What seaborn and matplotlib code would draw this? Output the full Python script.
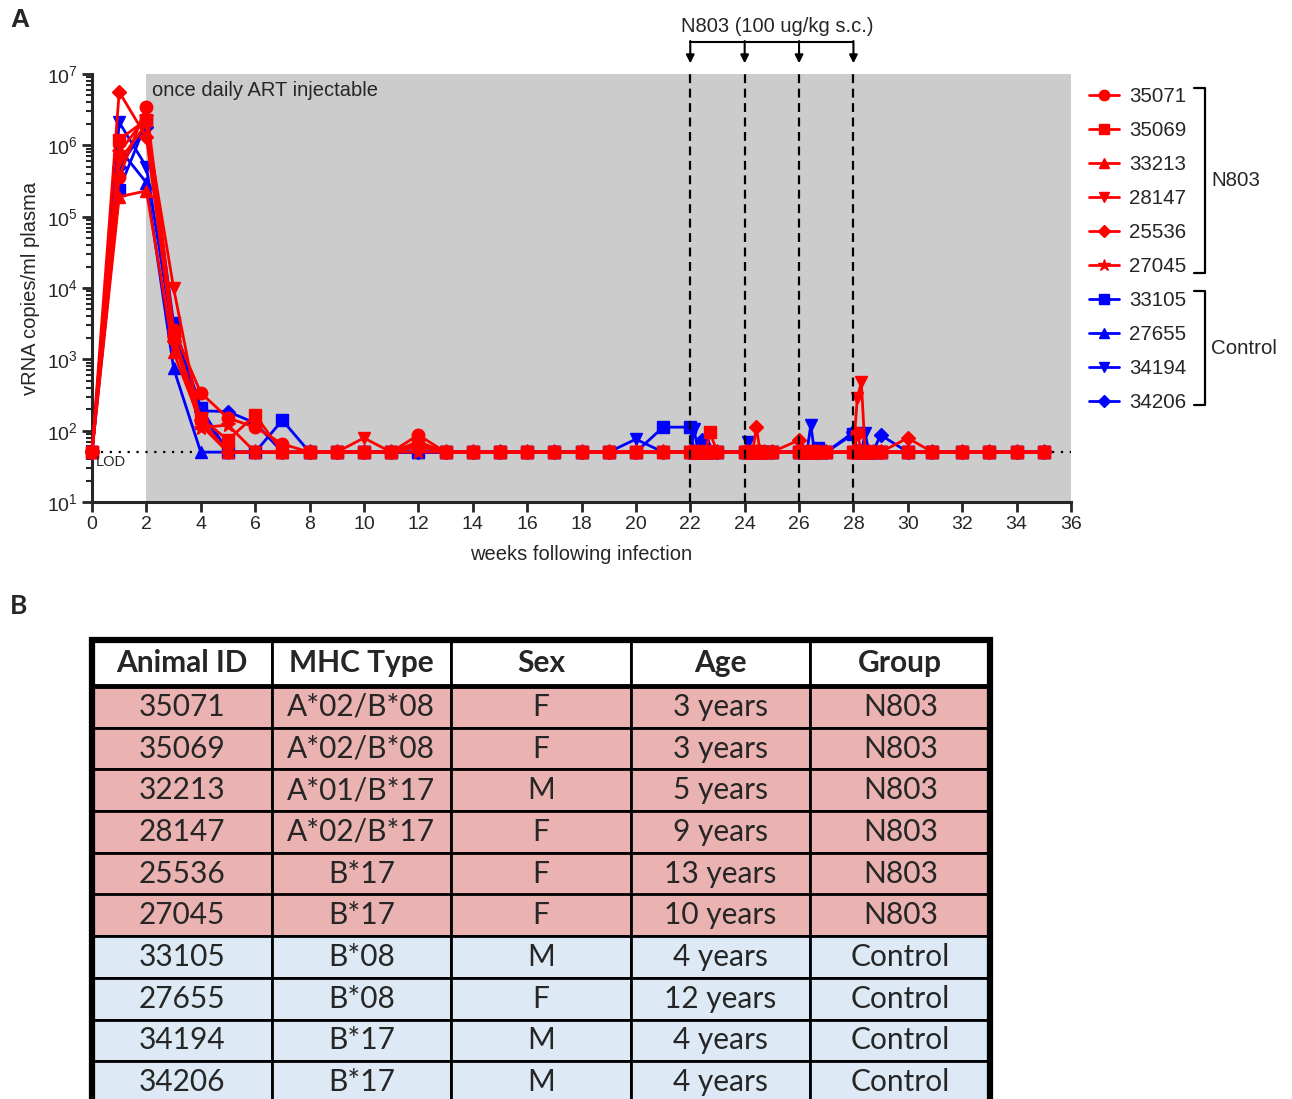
import numpy as np
import pandas as pd
import matplotlib
matplotlib.use('Agg')
import matplotlib.pyplot as plt
import seaborn as sns
from matplotlib.lines import Line2D
from matplotlib.patches import Rectangle
from matplotlib.ticker import LogLocator, NullFormatter

# ---------------- data ----------------
weeks = [0, 1, 2, 3, 4, 5, 6, 7, 8, 9, 10, 11, 12, 13, 14, 15, 16, 17, 18, 19, 20, 21,
         22, 22.14, 22.29, 22.43, 22.57, 22.71, 23,
         24, 24.14, 24.29, 24.43, 24.57, 24.71, 25,
         26, 26.14, 26.29, 26.43, 26.57, 26.71, 27,
         28, 28.14, 28.29, 28.43, 28.57, 28.71, 29,
         30, 30.9, 32, 33, 34, 35]

v_35071 = [50, 3.6e5, 3.5e6, 2.6e3, 340, 150, 112, 65, 50, 50, 50, 50, 87, 50, 50, 50, 50, 50, 50, 50, 50, 50,
           50, 50, 50, 50, 50, 50, 50,
           50, 50, 50, 50, 50, 50, 50,
           50, 50, 50, 50, 50, 50, 50,
           50, 92, 50, 50, 50, 50, 50,
           50, 50, 50, 50, 50, 50]
v_35069 = [50, 1.2e6, 2.3e6, 2.2e3, 150, 74, 165, 50, 50, 50, 50, 50, 60, 50, 50, 50, 50, 50, 50, 50, 50, 50,
           50, 50, 50, 50, 50, 95, 50,
           50, 50, 50, 50, 50, 50, 50,
           50, 50, 50, 50, 50, 50, 50,
           50, 50, 50, 50, 50, 50, 50,
           50, 50, 50, 50, 50, 50]
v_33213 = [50, 1.9e5, 2.3e5, 1.26e3, 130, 50, 50, 50, 50, 50, 50, 50, 63, 50, 50, 50, 50, 50, 50, 50, 50, 50,
           50, 50, 50, 50, 50, 50, 50,
           50, 50, 50, 50, 50, 50, 50,
           50, 50, 50, 50, 50, 50, 50,
           50, 50, 50, 50, 50, 50, 50,
           50, 50, 50, 50, 50, 50]
v_28147 = [50, 6.0e5, 2.0e6, 1.0e4, 120, 50, 50, 50, 50, 50, 79, 50, 70, 50, 50, 50, 50, 50, 50, 50, 50, 50,
           50, 50, 50, 50, 50, 50, 50,
           50, 50, 50, 50, 50, 50, 50,
           50, 50, 50, 50, 50, 50, 50,
           50, 286, 480, 50, 50, 50, 50,
           50, 50, 50, 50, 50, 50]
v_25536 = [50, 5.6e6, 1.3e6, 1.8e3, 140, 50, 50, 50, 50, 50, 50, 50, 60, 50, 50, 50, 50, 50, 50, 50, 50, 50,
           50, 50, 50, 50, 50, 50, 50,
           50, 50, 50, 112, 50, 50, 50,
           74, 50, 50, 50, 50, 50, 50,
           50, 50, 50, 50, 50, 50, 50,
           79, 50, 50, 50, 50, 50]
v_27045 = [50, 8.0e5, 2.5e6, 2.0e3, 110, 120, 50, 50, 50, 50, 50, 50, 50, 50, 50, 50, 50, 50, 50, 50, 50, 50,
           50, 50, 50, 50, 50, 50, 50,
           50, 50, 50, 50, 50, 50, 50,
           50, 50, 50, 50, 50, 50, 50,
           50, 50, 50, 50, 50, 50, 50,
           50, 50, 50, 50, 50, 50]
v_33105 = [50, 2.4e5, 2.1e6, 3.2e3, 210, 50, 50, 140, 50, 50, 50, 50, 50, 50, 50, 50, 50, 50, 50, 50, 50, 112,
           112, 50, 50, 50, 50, 50, 50,
           50, 50, 50, 50, 50, 50, 50,
           50, 50, 50, 50, 50, 58, 50,
           90, 50, 50, 50, 50, 50, 50,
           50, 50, 50, 50, 50, 50]
v_27655 = [50, 9.0e5, 3.0e5, 750, 50, 50, 50, 50, 50, 50, 50, 50, 50, 50, 50, 50, 50, 50, 50, 50, 50, 50,
           50, 50, 50, 50, 70, 50, 50,
           50, 50, 50, 50, 50, 50, 50,
           50, 50, 50, 50, 50, 50, 50,
           50, 50, 50, 50, 50, 50, 50,
           50, 50, 50, 50, 50, 50]
v_34194 = [50, 2.1e6, 5.0e5, 1.9e3, 180, 50, 50, 50, 50, 50, 50, 50, 50, 50, 50, 50, 50, 50, 50, 50, 76, 50,
           50, 105, 50, 50, 50, 50, 50,
           50, 70, 50, 50, 50, 50, 50,
           50, 50, 50, 120, 50, 50, 50,
           50, 50, 50, 92, 50, 50, 50,
           50, 50, 50, 50, 50, 50]
v_34206 = [50, 5.0e5, 1.8e6, 2.5e3, 190, 185, 128, 50, 50, 50, 50, 50, 50, 50, 50, 50, 50, 50, 50, 50, 50, 50,
           50, 50, 50, 74, 50, 50, 50,
           50, 50, 50, 50, 50, 50, 50,
           50, 50, 50, 50, 50, 50, 50,
           95, 50, 50, 50, 50, 50, 87,
           50, 50, 50, 50, 50, 50]

n803_ids = ['35071', '35069', '33213', '28147', '25536', '27045']
ctrl_ids = ['33105', '27655', '34194', '34206']
series = {'35071': v_35071, '35069': v_35069, '33213': v_33213, '28147': v_28147,
          '25536': v_25536, '27045': v_27045, '33105': v_33105, '27655': v_27655,
          '34194': v_34194, '34206': v_34206}
markers = {'35071': 'o', '35069': 's', '33213': '^', '28147': 'v', '25536': 'D', '27045': '*',
           '33105': 's', '27655': '^', '34194': 'v', '34206': 'D'}
draw_order = ['34206', '34194', '27655', '33105', '27045', '25536', '28147', '33213', '35071', '35069']
LOD = 50
dose_weeks = [22, 24, 26, 28]

table_cols = ['Animal ID', 'MHC Type', 'Sex', 'Age', 'Group']
table_ids = ['35071', '35069', '32213', '28147', '25536', '27045', '33105', '27655', '34194', '34206']
table_mhc = ['A*02/B*08', 'A*02/B*08', 'A*01/B*17', 'A*02/B*17', 'B*17', 'B*17', 'B*08', 'B*08', 'B*17', 'B*17']
table_sex = ['F', 'F', 'M', 'F', 'F', 'F', 'M', 'F', 'M', 'M']
table_age = ['3 years', '3 years', '5 years', '9 years', '13 years', '10 years', '4 years', '12 years', '4 years', '4 years']
table_group = ['N803', 'N803', 'N803', 'N803', 'N803', 'N803', 'Control', 'Control', 'Control', 'Control']

RED = '#FF0000'
BLUE = '#0000FF'
PINK = '#EAB2B0'
LBLUE = '#DDEAF6'

# ---------------- style ----------------
sns.set_style('ticks')
plt.rcParams['font.family'] = ['Liberation Sans', 'DejaVu Sans']
plt.rcParams['mathtext.fontset'] = 'custom'
plt.rcParams['mathtext.rm'] = 'Liberation Sans'
plt.rcParams['mathtext.it'] = 'Liberation Sans'
plt.rcParams['mathtext.bf'] = 'Liberation Sans:bold'

W, H = 1292, 1099
fig = plt.figure(figsize=(W / 100, H / 100), dpi=100)


def fx(p):
    return p / W


def fy(p):
    return 1 - p / H


ax = fig.add_axes([fx(92), fy(502), fx(1071 - 92), (502 - 74) / H])

rows = []
for aid in draw_order:
    for w, v in zip(weeks, series[aid]):
        rows.append({'week': w, 'vl': v, 'animal': aid})
df = pd.DataFrame(rows)

palette = {a: RED for a in n803_ids}
palette.update({a: BLUE for a in ctrl_ids})

ax.axvspan(2, 36, color='#CCCCCC', zorder=0, lw=0)
ax.axhline(LOD, color='black', ls=(0, (1, 3)), lw=1.6, zorder=1)

sns.lineplot(data=df, x='week', y='vl', hue='animal', style='animal',
             hue_order=draw_order, style_order=draw_order,
             palette=palette, markers=markers, dashes=False, estimator=None,
             markersize=9, linewidth=2, legend=False, ax=ax, clip_on=False, zorder=3)
for ln in ax.lines:
    col = ln.get_color()
    ln.set_markeredgecolor(col)
    ln.set_markerfacecolor(col)
    ln.set_markeredgewidth(1)
    if ln.get_marker() == 'D':
        ln.set_markersize(7)
    if ln.get_marker() == '*':
        ln.set_markersize(11)

for d in dose_weeks:
    ax.axvline(d, color='black', ls=(0, (4, 2.5)), lw=1.6, zorder=5)

ax.set_yscale('log')
ax.set_xlim(0, 36)
ax.set_ylim(10, 1e7)
ax.set_xticks(np.arange(0, 37, 2))
ax.yaxis.set_major_locator(LogLocator(base=10, numticks=10))
ax.yaxis.set_minor_locator(LogLocator(base=10, subs=np.arange(2, 10), numticks=100))
ax.yaxis.set_minor_formatter(NullFormatter())
ax.tick_params(axis='both', which='major', direction='out', length=7, width=2, labelsize=14, pad=3)
ax.tick_params(axis='y', which='minor', direction='out', length=4, width=1.5)
for s in ['top', 'right']:
    ax.spines[s].set_visible(False)
for s in ['left', 'bottom']:
    ax.spines[s].set_linewidth(2.2)
ax.set_facecolor('white')
ax.set_xlabel('weeks following infection', fontsize=14.5, labelpad=9)
ax.set_ylabel('vRNA copies/ml plasma', fontsize=14.5, labelpad=5)

ax.text(2.2, 0.962, 'once daily ART injectable', transform=ax.get_xaxis_transform(),
        fontsize=14.5, va='center', ha='left', zorder=6)
ax.text(0.15, 0.093, 'LOD', transform=ax.get_xaxis_transform(), fontsize=10.5, va='center', ha='left', zorder=6)

# N803 dosing annotation
tr = ax.get_xaxis_transform()
ax.plot([dose_weeks[0], dose_weeks[-1]], [1.075, 1.075], color='black', lw=1.5, transform=tr, clip_on=False)
for d in dose_weeks:
    ax.annotate('', xy=(d, 1.025), xytext=(d, 1.077), xycoords=tr, textcoords=tr,
                arrowprops=dict(arrowstyle='-|>', color='black', lw=1.5, mutation_scale=12,
                                shrinkA=0, shrinkB=0))
ax.text(25.2, 1.112, 'N803 (100 ug/kg s.c.)', transform=tr, ha='center', va='center', fontsize=14.5)

# legend
handles = [Line2D([0], [0], color=palette[a], marker=markers[a], lw=2,
                  markersize=(6 if markers[a] == 'D' else 9 if markers[a] == '*' else 7.5))
           for a in n803_ids + ctrl_ids]
fig.legend(handles, n803_ids + ctrl_ids, loc='upper left', bbox_to_anchor=(fx(1089), fy(87)),
           frameon=False, fontsize=14.8, handlelength=1.45, handletextpad=0.5,
           labelspacing=0.73, borderaxespad=0, borderpad=0)

# group brackets
for (top, bot, label) in [(88, 273, 'N803'), (291, 405, 'Control')]:
    fig.add_artist(Line2D([fx(1194), fx(1205), fx(1205), fx(1194)], [fy(top), fy(top), fy(bot), fy(bot)],
                          transform=fig.transFigure, color='black', lw=1.6))
    fig.text(fx(1211), fy((top + bot) / 2), label, fontsize=14.8, va='center', ha='left')

fig.text(fx(10), fy(8), 'A', fontsize=19, fontweight='bold', va='top', ha='left')
fig.text(fx(10), fy(594), 'B', fontsize=19, fontweight='bold', va='top', ha='left',
         family=['Lato', 'DejaVu Sans'])

# ---------------- table ----------------
axt = fig.add_axes([fx(92), fy(1103), fx(990 - 92), (1103 - 640) / H])
axt.axis('off')
cell_text = [[a, b, c, d, e] for a, b, c, d, e in zip(table_ids, table_mhc, table_sex, table_age, table_group)]
cell_colours = [[PINK if g == 'N803' else LBLUE] * 5 for g in table_group]
tbl = axt.table(cellText=cell_text, colLabels=table_cols, cellColours=cell_colours,
                colColours=['white'] * 5, cellLoc='center', bbox=[0, 0, 1, 1])
tbl.auto_set_font_size(False)
for (r, c), cell in tbl.get_celld().items():
    cell.set_linewidth(2)
    cell.set_edgecolor('black')
    cell.set_height(46 if r == 0 else 41.7)
    t = cell.get_text()
    t.set_fontsize(21.5)
    t.set_family(['Lato', 'DejaVu Sans'])
    if r == 0:
        t.set_fontweight('bold')
axt.add_patch(Rectangle((0, 0), 1, 1, transform=axt.transAxes, fill=False, lw=4.5,
                        edgecolor='black', clip_on=False, zorder=10))
axt.plot([0, 1], [417 / 463, 417 / 463], transform=axt.transAxes, color='black', lw=3.5,
         clip_on=False, zorder=10)

fig.savefig('out.png', dpi=100)
